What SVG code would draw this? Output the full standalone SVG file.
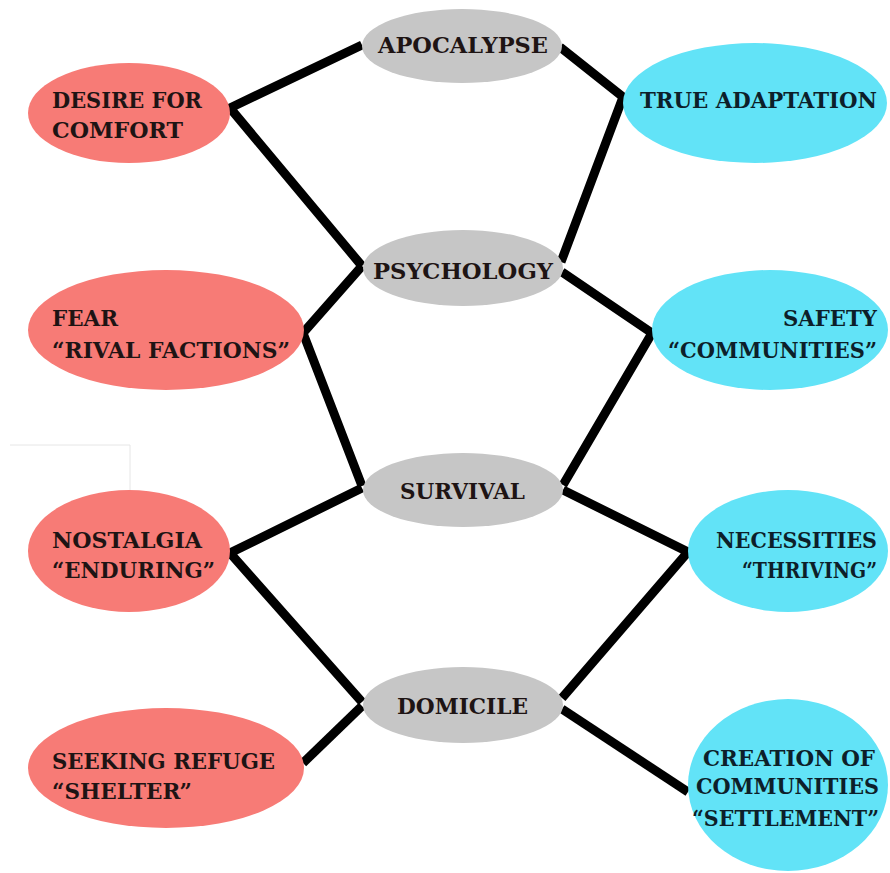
<svg xmlns="http://www.w3.org/2000/svg" width="890" height="873" viewBox="0 0 890 873">
<style>
.red{fill:#f77b76}
.cyan{fill:#62e3f7}
.gray{fill:#c6c6c6}
.t{font-family:"DejaVu Serif","Liberation Serif",serif;font-weight:bold;font-size:23px;fill:#1e1414}
.tc{font-family:"DejaVu Serif","Liberation Serif",serif;font-weight:bold;font-size:23px;fill:#0d1f2a;text-anchor:end}
.ln{stroke:#000;stroke-width:9;fill:none;stroke-linejoin:miter;stroke-linecap:butt}
.faint{stroke:#e6e6e6;stroke-width:1;fill:none}
</style>
<rect width="890" height="873" fill="#fff"/>
<path class="faint" d="M10 445 H130 V490"/>
<g id="connectors">
<polyline class="ln" points="362,45 230,108 362,266"/>
<polyline class="ln" points="560,47 623,97 561,262"/>
<polyline class="ln" points="362,266 303,333 362,486"/>
<polyline class="ln" points="562,272 652,333 563,485"/>
<polyline class="ln" points="362,488 230,553 362,702"/>
<polyline class="ln" points="563,490 688,552 562,698"/>
<polyline class="ln" points="362,706 303,763"/>
<polyline class="ln" points="562,709 688,792"/>
</g>
<g id="apocalypse"><ellipse class="gray" cx="462" cy="46" rx="100" ry="37"/><text class="t" x="378" y="53" textLength="170" lengthAdjust="spacingAndGlyphs">APOCALYPSE</text></g>
<g id="psychology"><ellipse class="gray" cx="463" cy="268" rx="100" ry="38"/><text class="t" x="373" y="279" textLength="180" lengthAdjust="spacingAndGlyphs">PSYCHOLOGY</text></g>
<g id="survival"><ellipse class="gray" cx="463" cy="490" rx="100" ry="37"/><text class="t" x="400" y="499" textLength="125" lengthAdjust="spacingAndGlyphs">SURVIVAL</text></g>
<g id="domicile"><ellipse class="gray" cx="463" cy="705" rx="100" ry="38"/><text class="t" x="397" y="714" textLength="131" lengthAdjust="spacingAndGlyphs">DOMICILE</text></g>
<g id="desire-for-comfort"><ellipse class="red" cx="129" cy="113" rx="101" ry="50"/><text class="t" x="52" y="108" textLength="150" lengthAdjust="spacingAndGlyphs">DESIRE FOR</text><text class="t" x="52" y="138" textLength="131" lengthAdjust="spacingAndGlyphs">COMFORT</text></g>
<g id="fear"><ellipse class="red" cx="166" cy="330" rx="138" ry="60"/><text class="t" x="52" y="326" textLength="66" lengthAdjust="spacingAndGlyphs">FEAR</text><text class="t" x="52" y="358" textLength="238" lengthAdjust="spacingAndGlyphs">“RIVAL FACTIONS”</text></g>
<g id="nostalgia"><ellipse class="red" cx="129" cy="551" rx="101" ry="61"/><text class="t" x="52" y="548" textLength="150" lengthAdjust="spacingAndGlyphs">NOSTALGIA</text><text class="t" x="52" y="578" textLength="163" lengthAdjust="spacingAndGlyphs">“ENDURING”</text></g>
<g id="seeking-refuge"><ellipse class="red" cx="166" cy="768" rx="138" ry="60"/><text class="t" x="52" y="769" textLength="223" lengthAdjust="spacingAndGlyphs">SEEKING REFUGE</text><text class="t" x="52" y="799" textLength="140" lengthAdjust="spacingAndGlyphs">“SHELTER”</text></g>
<g id="true-adaptation"><ellipse class="cyan" cx="755" cy="103" rx="132" ry="60"/><text class="tc" x="877" y="108" textLength="237" lengthAdjust="spacingAndGlyphs">TRUE ADAPTATION</text></g>
<g id="safety"><ellipse class="cyan" cx="770" cy="330" rx="118" ry="60"/><text class="tc" x="877" y="326" textLength="94" lengthAdjust="spacingAndGlyphs">SAFETY</text><text class="tc" x="877" y="358" textLength="209" lengthAdjust="spacingAndGlyphs">“COMMUNITIES”</text></g>
<g id="necessities"><ellipse class="cyan" cx="788" cy="551" rx="100" ry="61"/><text class="tc" x="877" y="548" textLength="161" lengthAdjust="spacingAndGlyphs">NECESSITIES</text><text class="tc" x="877" y="578" textLength="135" lengthAdjust="spacingAndGlyphs">“THRIVING”</text></g>
<g id="creation-of-communities"><ellipse class="cyan" cx="788" cy="785" rx="100" ry="86"/><text class="tc" x="875" y="766" textLength="172" lengthAdjust="spacingAndGlyphs">CREATION OF</text><text class="tc" x="879" y="794" textLength="183" lengthAdjust="spacingAndGlyphs">COMMUNITIES</text><text class="tc" x="879" y="826" textLength="187" lengthAdjust="spacingAndGlyphs">“SETTLEMENT”</text></g>
</svg>
